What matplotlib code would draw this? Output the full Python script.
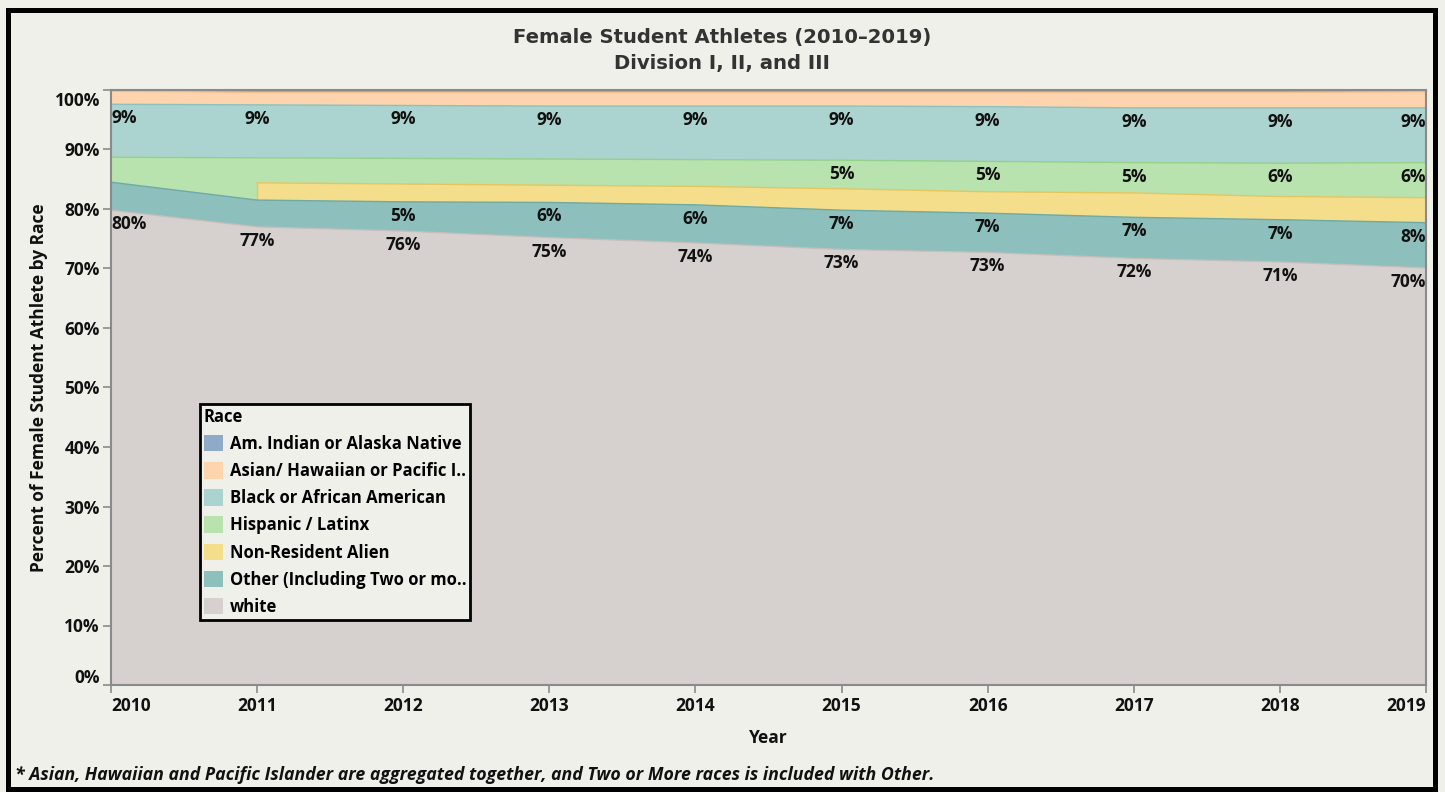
import matplotlib
matplotlib.use("Agg")
import matplotlib.pyplot as plt
import numpy as np
import matplotlib.transforms as mtransforms
from matplotlib.patches import Patch, Rectangle

# ---------------- data ----------------
years = [2010, 2011, 2012, 2013, 2014, 2015, 2016, 2017, 2018, 2019]
white = [79.8, 77.0, 76.3, 75.2, 74.3, 73.2, 72.7, 71.7, 71.1, 70.1]
other = [4.7, 4.5, 4.9, 5.9, 6.4, 6.6, 6.6, 6.9, 7.1, 7.6]
non_resident = [np.nan, 2.9, 3.0, 2.9, 3.1, 3.6, 3.6, 4.1, 3.9, 4.2]
hispanic = [4.2, 4.2, 4.3, 4.4, 4.5, 4.8, 5.1, 5.1, 5.6, 5.9]
black = [8.9, 8.9, 8.9, 8.9, 9.0, 9.1, 9.2, 9.2, 9.3, 9.2]
asian = [2.2, 2.1, 2.2, 2.3, 2.3, 2.3, 2.4, 2.6, 2.6, 2.7]
am_indian = [0.2, 0.4, 0.4, 0.4, 0.4, 0.4, 0.4, 0.4, 0.4, 0.3]

legend_labels = ["Am. Indian or Alaska Native", "Asian/ Hawaiian or Pacific I..",
                 "Black or African American", "Hispanic / Latinx",
                 "Non-Resident Alien", "Other (Including Two or mo..", "white"]
y_ticks = [0, 10, 20, 30, 40, 50, 60, 70, 80, 90, 100]

white_label_years = years
other_label_years = [2012, 2013, 2014, 2015, 2016, 2017, 2018, 2019]
hispanic_label_years = [2015, 2016, 2017, 2018, 2019]
black_label_years = years

# ---------------- style ----------------
BG = "#f0f0ea"
colors = {
    "am_indian": "#8fa9c9",
    "asian": "#fdd4ad",
    "black": "#abd3cf",
    "hispanic": "#b8e3ae",
    "nra": "#f4dd8b",
    "other": "#8dbfbc",
    "white": "#d6d1cf",
}
edges = {
    "am_indian": "#6f8fb5",
    "asian": "#f2c08f",
    "black": "#8cc2be",
    "hispanic": "#95d18a",
    "nra": "#e4c660",
    "other": "#6eaaa6",
    "white": "#c4bebc",
}
FONT = ["Open Sans", "DejaVu Sans"]
plt.rcParams["font.family"] = FONT
plt.rcParams["font.weight"] = "bold"

fig = plt.figure(figsize=(14.45, 7.92), dpi=100, facecolor=BG)
L, R, T, B = 111, 1426, 90, 685
W, H = 1445, 792
ax = fig.add_axes([L / W, (H - B) / H, (R - L) / W, (B - T) / H])
ax.set_facecolor(BG)

x = np.array(years, dtype=float)
layers = [("white", white), ("other", other), ("nra", non_resident),
          ("hispanic", hispanic), ("black", black), ("asian", asian),
          ("am_indian", am_indian)]

vals = [np.array(v, dtype=float) for _, v in layers]
cum = np.cumsum([np.nan_to_num(v) for v in vals], axis=0)

# draw from top layer down (painter's order)
n = len(layers)
for i in reversed(range(n)):
    key = layers[i][0]
    mask = ~np.isnan(vals[i])
    ax.fill_between(x[mask], 0, cum[i][mask], facecolor=colors[key],
                    edgecolor="none", zorder=2 + (n - i))
    ax.plot(x[mask], cum[i][mask], color=edges[key], lw=1.0,
            zorder=2 + (n - i) + 0.5)
    if key == "nra":
        first = np.argmax(mask)
        ax.plot([x[first], x[first]], [cum[i - 1][first], cum[i][first]],
                color=edges[key], lw=1.0, zorder=2 + (n - i) + 0.5)

# labels
LBL = 12.5
def add_labels(idx, label_years):
    v = vals[idx]
    for yr in label_years:
        j = years.index(yr)
        ha = "center"
        if j == 0:
            ha = "left"
        elif j == len(years) - 1:
            ha = "right"
        ax.annotate(f"{int(round(v[j]))}%", xy=(years[j], cum[idx][j]),
                    xytext=(0, -14), textcoords="offset pixels",
                    ha=ha, va="center", fontsize=LBL, fontweight="bold",
                    color="#111111", zorder=20)

add_labels(0, white_label_years)
add_labels(1, other_label_years)
add_labels(3, hispanic_label_years)
add_labels(4, black_label_years)

ax.set_xlim(years[0], years[-1])
ax.set_ylim(0, 100)
ax.set_yticks(y_ticks)
ax.set_yticklabels([f"{t}%" for t in y_ticks])
ax.set_xticks(years)
ax.set_xticklabels([str(y) for y in years])

for s in ax.spines.values():
    s.set_color("#8a8a8a")
    s.set_linewidth(1.5)
    s.set_zorder(30)
ax.tick_params(axis="both", colors="#8a8a8a", length=6, width=1.2,
               labelcolor="#111111", labelsize=12.5)
ax.tick_params(axis="y", pad=2)
ax.tick_params(axis="x", pad=2.5)

# adjust edge tick labels
ylabels = ax.get_yticklabels()
ylabels[-1].set_transform(ylabels[-1].get_transform() +
                          mtransforms.ScaledTranslation(0, -9 / 100, fig.dpi_scale_trans))
ylabels[0].set_transform(ylabels[0].get_transform() +
                         mtransforms.ScaledTranslation(0, 9 / 100, fig.dpi_scale_trans))
xlabels = ax.get_xticklabels()
xlabels[0].set_ha("left")
xlabels[-1].set_ha("right")
for lab in ax.get_xticklabels() + ax.get_yticklabels():
    lab.set_fontweight("bold")

ax.set_xlabel("Year", fontsize=12.5, fontweight="bold", color="#111111", labelpad=10)
ax.set_ylabel("Percent of Female Student Athlete by Race", fontsize=12.5,
              fontweight="bold", color="#111111", labelpad=4.5)

TFONT = ["DejaVu Sans"]
fig.text(0.5, 1 - 38 / H, "Female Student Athletes (2010\u20132019)", ha="center",
         va="center", fontsize=14.1, fontweight="bold", color="#333333", family=TFONT)
fig.text(0.5, 1 - 64 / H, "Division I, II, and III", ha="center",
         va="center", fontsize=14.1, fontweight="bold", color="#333333", family=TFONT)

fig.text(15 / W, 1 - 775 / H,
         "* Asian, Hawaiian and Pacific Islander are aggregated together, and Two or More races is included with Other.",
         ha="left", va="center", fontsize=12.8, fontweight="bold", style="italic",
         color="#111111")

# legend
handles = [Patch(facecolor=colors[k], edgecolor="none") for k in
           ["am_indian", "asian", "black", "hispanic", "nra", "other", "white"]]
leg = ax.legend(handles, legend_labels, title="Race", loc="upper left",
                bbox_to_anchor=((200 - L) / (R - L), (B - 404) / (B - T)),
                borderaxespad=0, frameon=True, fancybox=False,
                prop={"size": 12, "weight": "bold", "family": FONT},
                title_fontproperties={"size": 12, "weight": "bold", "family": FONT},
                handlelength=1.14, handleheight=1.14, handletextpad=0.42,
                labelspacing=0.55, borderpad=0.22, alignment="left")
leg.get_frame().set_edgecolor("black")
leg.get_frame().set_linewidth(2)
leg.get_frame().set_facecolor(BG)
leg.get_frame().set_alpha(1)
leg.set_zorder(40)

# outer border
fig.patches.append(Rectangle((7.5 / W, 3 / H), (1435 - 7.5) / W, (H - 10 - 3) / H,
                             transform=fig.transFigure, fill=False,
                             edgecolor="black", linewidth=3.6, zorder=50))

fig.savefig("out.png", dpi=100, facecolor=BG)
